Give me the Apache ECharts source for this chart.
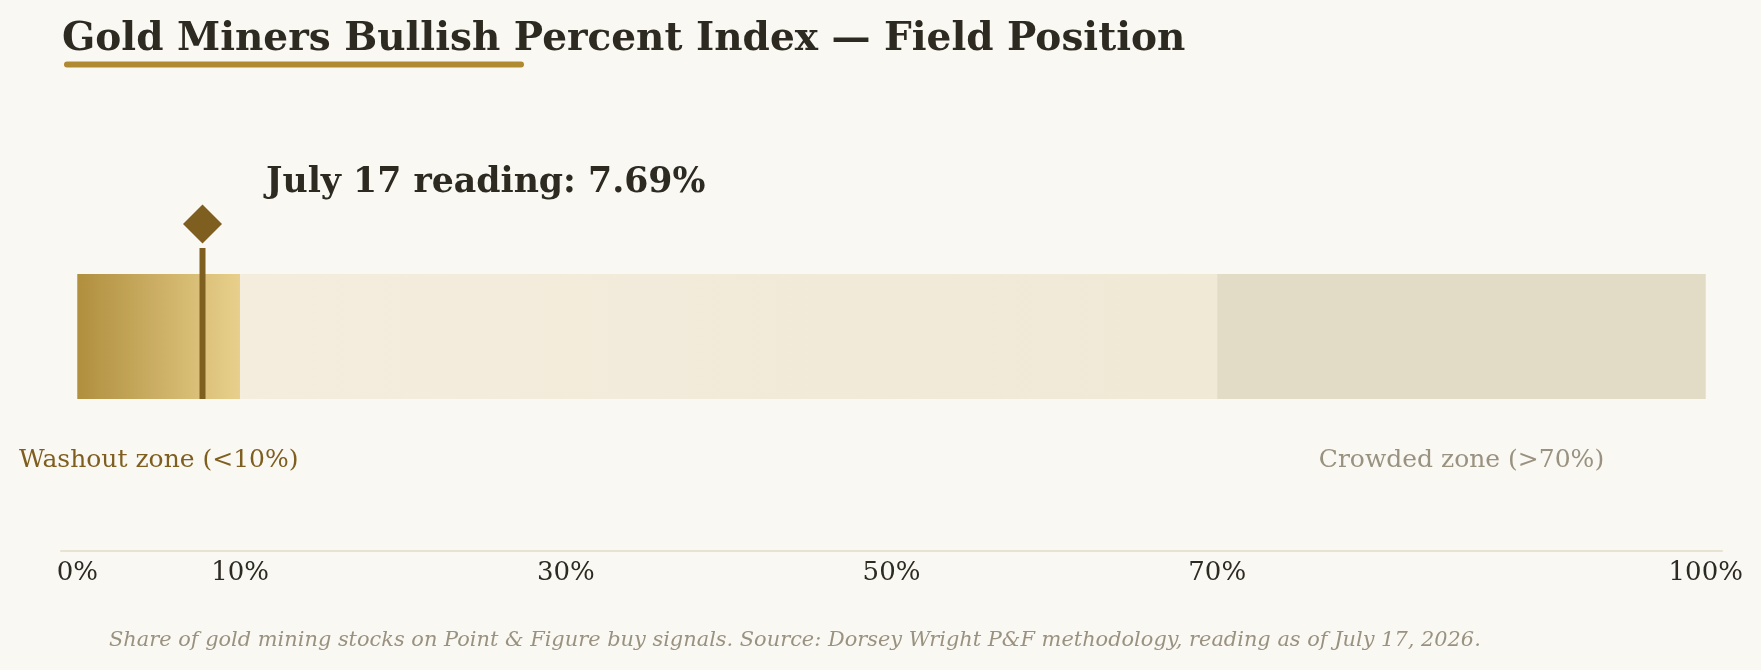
<!DOCTYPE html>
<html>
<head>
<meta charset="utf-8">
<title>Gold Miners Bullish Percent Index</title>
<script src="https://cdn.jsdelivr.net/npm/echarts@6/dist/echarts.min.js"></script>
<style>
  html, body { margin: 0; padding: 0; background: #faf8f3; }
  #chart { width: 1761px; height: 670px; }
</style>
</head>
<body>
<div id="chart"></div>
<script>
// zones of the index, in percent points
var zoneNames = ['Washout zone (<10%)', 'Neutral', 'Crowded zone (>70%)'];
var zoneSizes = [10, 60, 30];
var tickValues = [0, 10, 30, 50, 70, 100];
var readingDate = 'July 17';
var readingValue = 7.69;

var serif = '"DejaVu Serif", serif';

var chart = echarts.init(document.getElementById('chart'));

var zoneColors = [
  new echarts.graphic.LinearGradient(0, 0, 1, 0, [
    { offset: 0, color: '#b08f3e' },
    { offset: 1, color: '#e8d08c' }
  ]),
  new echarts.graphic.LinearGradient(0, 0, 1, 0, [
    { offset: 0, color: '#f4ecdd' },
    { offset: 1, color: '#f0e9d6' }
  ]),
  '#e2dbc5'
];
var zoneLabelColors = ['#7f5f1f', null, '#9a9280'];

var zoneSeries = zoneNames.map(function (name, i) {
  return {
    name: name,
    type: 'bar',
    stack: 'zones',
    barWidth: 125,
    silent: true,
    itemStyle: { color: zoneColors[i] },
    label: {
      show: zoneLabelColors[i] !== null,
      position: 'bottom',
      distance: 49,
      formatter: name,
      fontFamily: serif,
      fontSize: 25,
      color: zoneLabelColors[i] || '#000'
    },
    data: [zoneSizes[i]]
  };
});

var option = {
  backgroundColor: '#faf8f3',
  animation: false,
  grid: { left: 61, right: 39, top: 122, bottom: 119 },
  xAxis: {
    type: 'value',
    min: -1,
    max: 101,
    splitLine: { show: false },
    axisTick: { show: false },
    axisLine: { show: true, lineStyle: { color: '#e8e2d3', width: 2 } },
    axisLabel: {
      customValues: tickValues,
      formatter: '{value}%',
      margin: 9,
      fontFamily: serif,
      fontSize: 26,
      color: '#2d2a22'
    }
  },
  yAxis: {
    type: 'category',
    data: ['BPI'],
    show: false
  },
  series: zoneSeries.concat([
    {
      // stem of the marker
      type: 'scatter',
      z: 4,
      silent: true,
      symbol: 'rect',
      symbolSize: [6, 151],
      symbolOffset: [0, -13],
      itemStyle: { color: '#7f5f1f', opacity: 1 },
      data: [[readingValue, 0]]
    },
    {
      type: 'scatter',
      z: 4,
      silent: true,
      symbol: 'diamond',
      symbolSize: 39,
      symbolOffset: [0, -112.5],
      itemStyle: { color: '#7f5f1f', opacity: 1 },
      label: {
        show: true,
        position: 'right',
        distance: 0,
        offset: [44, -41.5],
        formatter: readingDate + ' reading: ' + readingValue + '%',
        fontFamily: serif,
        fontWeight: 'bold',
        fontSize: 34.7,
        color: '#2d2a22'
      },
      data: [[readingValue, 0]]
    }
  ]),
  graphic: [
    {
      type: 'text',
      style: {
        x: 62, y: 39.5,
        text: 'Gold Miners Bullish Percent Index \u2014 Field Position',
        font: 'bold 39px ' + serif,
        fill: '#2d2a22',
        textAlign: 'left',
        textVerticalAlign: 'middle'
      }
    },
    {
      type: 'line',
      shape: { x1: 67, y1: 64.5, x2: 521, y2: 64.5 },
      style: { stroke: '#b08a30', lineWidth: 6, lineCap: 'round' }
    },
    {
      type: 'text',
      style: {
        x: 109, y: 640.5,
        text: 'Share of gold mining stocks on Point & Figure buy signals. Source: Dorsey Wright P&F methodology, reading as of July 17, 2026.',
        font: 'italic 20.9px ' + serif,
        fill: '#9a9280',
        textAlign: 'left',
        textVerticalAlign: 'middle'
      }
    }
  ]
};

chart.setOption(option);
</script>
</body>
</html>
